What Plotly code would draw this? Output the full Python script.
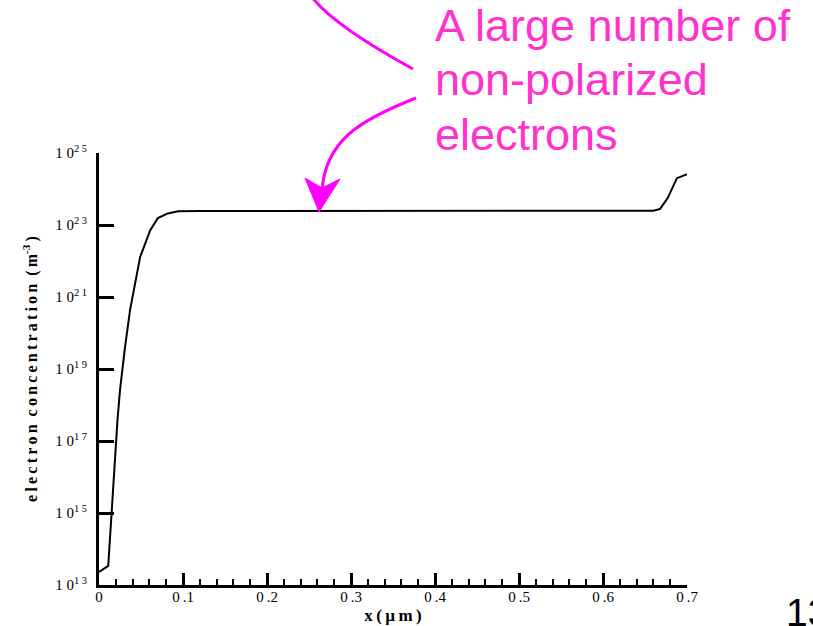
import plotly.graph_objects as go

# ---------------- data ----------------
x_um = [0.0, 0.011, 0.022, 0.025, 0.031, 0.037, 0.049, 0.061, 0.070, 0.082,
        0.094, 0.12, 0.2, 0.3, 0.4, 0.5, 0.6, 0.66, 0.668, 0.677, 0.688, 0.70]
n_e = [2.3e13, 3.4e13, 3.8e17, 2.6e18, 4.1e19, 4.4e20, 1.3e22, 7.2e22, 1.55e23,
       2.1e23, 2.4e23, 2.45e23, 2.45e23, 2.45e23, 2.45e23, 2.45e23, 2.45e23,
       2.5e23, 2.8e23, 5.6e23, 2.0e24, 2.6e24]

y_exponents = [13, 15, 17, 19, 21, 23, 25]
x_ticks = [0, 0.1, 0.2, 0.3, 0.4, 0.5, 0.6, 0.7]
x_tick_labels = ["0", "0\u2009.1", "0\u2009.2", "0\u2009.3", "0\u2009.4",
                 "0\u2009.5", "0\u2009.6", "0\u2009.7"]
note_lines = ["A large number of", "non-polarized", "electrons"]
page_number = "13"

# ---------------- layout geometry ----------------
W, H = 813, 626
L, R, T, B = 99, 126, 153, 41
PW, PH = W - L - R, H - T - B


def px(x):
    return (x - L) / PW


def py(y):
    return (H - B - y) / PH


def path(cmds):
    out = []
    for c in cmds:
        if isinstance(c, str):
            out.append(c)
        else:
            out.append(f"{px(c[0]):.5f},{py(c[1]):.5f}")
    return " ".join(out)


sp = "\u2009"
nb = "\u00a0"

fig = go.Figure()
fig.add_trace(go.Scatter(
    x=x_um, y=n_e, mode="lines",
    line=dict(color="black", width=2),
    showlegend=False, hoverinfo="skip",
))

serif = "Liberation Serif"

fig.update_layout(
    width=W, height=H, autosize=False,
    margin=dict(l=L, r=R, t=T, b=B, pad=0, autoexpand=False),
    paper_bgcolor="white", plot_bgcolor="white",
    font=dict(family=serif, color="black"),
    xaxis=dict(
        range=[0, 0.7], showgrid=False, zeroline=False, automargin=False,
        showline=True, linewidth=3, linecolor="black",
        ticks="inside", ticklen=12, tickwidth=2.5, tickcolor="black",
        tickvals=x_ticks, ticktext=x_tick_labels,
        tickfont=dict(family=serif, size=15),
        ticklabelstandoff=-4,
        minor=dict(ticks="inside", dtick=0.02, ticklen=6, tickwidth=1.5, tickcolor="black"),
        title=dict(text="<b>x" + sp + "(" + sp + "µ" + sp + "m" + sp + ")</b>",
                   font=dict(family=serif, size=17), standoff=6),
    ),
    yaxis=dict(
        type="log", range=[13, 25], showgrid=False, zeroline=False, automargin=False,
        showline=True, linewidth=3, linecolor="black",
        ticks="inside", ticklen=15, tickwidth=2.5, tickcolor="black",
        tickvals=[10.0 ** e for e in y_exponents],
        ticktext=["1" + nb + "0<sup>" + nb.join(str(e)) + "</sup>" for e in y_exponents],
        tickfont=dict(family=serif, size=15),
        ticklabelstandoff=6,
        title=dict(text="<b>" + sp.join("electron") + nb + nb + sp.join("concentration")
                   + nb + nb + "(" + sp + "m<sup>-3</sup>" + sp + ")</b>",
                   font=dict(family=serif, size=16), standoff=14),
    ),
)

pink = "#FF33CC"
magenta = "#FF00FF"
centers = [25, 79, 134]
for line, cy in zip(note_lines, centers):
    fig.add_annotation(
        x=px(433), y=py(cy), xref="paper", yref="paper",
        xanchor="left", yanchor="middle", showarrow=False,
        text=line, font=dict(family="Liberation Sans", size=45, color=pink),
    )

fig.add_annotation(
    x=px(784), y=py(612), xref="paper", yref="paper",
    xanchor="left", yanchor="middle", showarrow=False,
    text=page_number, font=dict(family="Liberation Sans", size=39, color="black"),
)

# upper curved connector
fig.add_shape(type="path", xref="paper", yref="paper",
              path=path(["M", (311, -4), "C", (326, 16), (360, 40), (413, 69)]),
              line=dict(color=magenta, width=3))
# lower curved arrow
fig.add_shape(type="path", xref="paper", yref="paper",
              path=path(["M", (416, 98), "C", (360, 120), (326, 140), (322, 190)]),
              line=dict(color=magenta, width=3))
fig.add_shape(type="path", xref="paper", yref="paper",
              path=path(["M", (305, 178), "L", (322, 188), "L", (340, 179), "L", (319, 212), "Z"]),
              line=dict(color=magenta, width=1), fillcolor=magenta)

fig.write_html("out.html")
